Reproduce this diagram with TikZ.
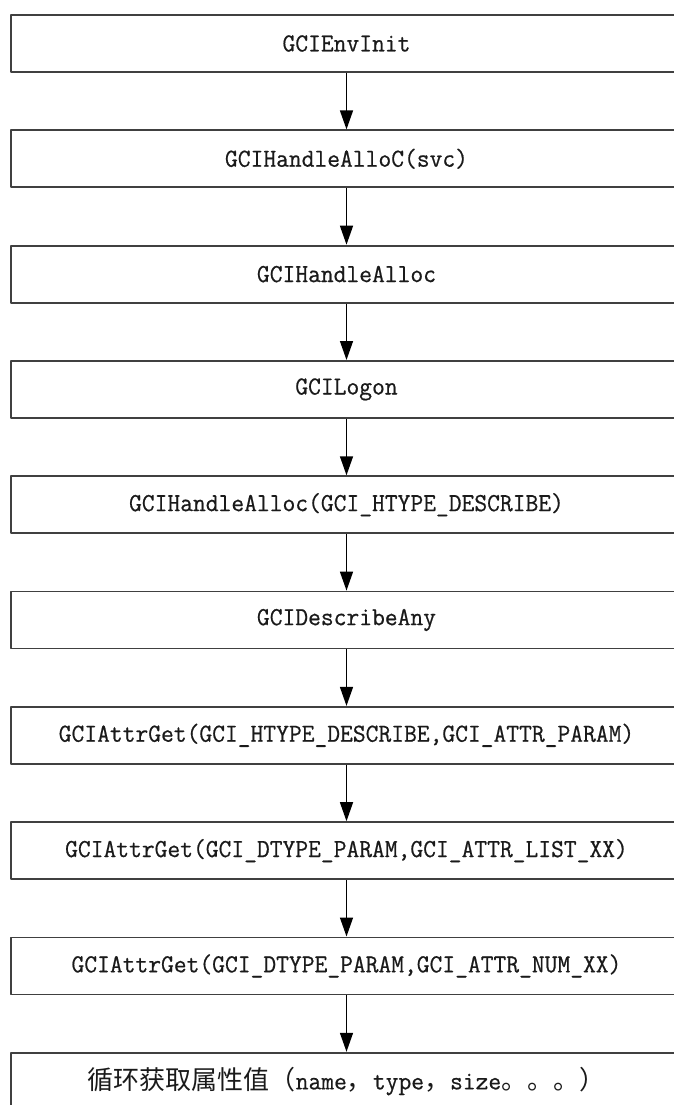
\documentclass[tikz,border=0pt]{standalone}
\usepackage{fontspec}
\usetikzlibrary{positioning,arrows.meta}
\newfontfamily\gcimono[FakeStretch=0.955,FakeBold=0.6]{Latin Modern Mono}
\newfontfamily\cjk{Noto Sans CJK SC}
\definecolor{boxline}{HTML}{404040}
\definecolor{ink}{HTML}{1A1A1A}

\begin{document}
\begin{tikzpicture}[x=1pt,y=1pt,line join=round,
		callbox/.style={draw=boxline,line width=1.8pt,minimum width=671pt,minimum height=57pt,
			inner sep=0pt,text=ink,font=\gcimono\fontsize{26}{30}\selectfont},
		flow/.style={line width=1.4pt,-{Triangle[length=19pt,width=13pt]}},
		node distance=56.5pt]
			\useasboundingbox (0,0) rectangle (674,-1105);
			\node[callbox] (envinit) at (346.5,-43.5) {GCIEnvInit};
			\node[callbox,below=of envinit] (allocsvc) {GCIHandleAlloC(svc)};
			\node[callbox,below=of allocsvc] (alloc) {GCIHandleAlloc};
			\node[callbox,below=of alloc] (logon) {GCILogon};
			\node[callbox,below=of logon] (allocdsc) {GCIHandleAlloc(GCI\_HTYPE\_DESCRIBE)};
			\node[callbox,below=of allocdsc] (describe) {GCIDescribeAny};
			\node[callbox,below=of describe] (getparam) {GCIAttrGet(GCI\_HTYPE\_DESCRIBE,GCI\_ATTR\_PARAM)};
			\node[callbox,below=of getparam] (getlist) {GCIAttrGet(GCI\_DTYPE\_PARAM,GCI\_ATTR\_LIST\_XX)};
			\node[callbox,below=of getlist] (getnum) {GCIAttrGet(GCI\_DTYPE\_PARAM,GCI\_ATTR\_NUM\_XX)};
			% last box runs off the page bottom
			\node[callbox,below=of getnum] (loopattr) {{\cjk 循环获取属性值（}name{\cjk ，}type{\cjk ，}size{\cjk 。。。）}};
			\draw[flow] (envinit) -- (allocsvc);
			\draw[flow] (allocsvc) -- (alloc);
			\draw[flow] (alloc) -- (logon);
			\draw[flow] (logon) -- (allocdsc);
			\draw[flow] (allocdsc) -- (describe);
			\draw[flow] (describe) -- (getparam);
			\draw[flow] (getparam) -- (getlist);
			\draw[flow] (getlist) -- (getnum);
			\draw[flow] (getnum) -- (loopattr);
		\end{tikzpicture}
\end{document}
